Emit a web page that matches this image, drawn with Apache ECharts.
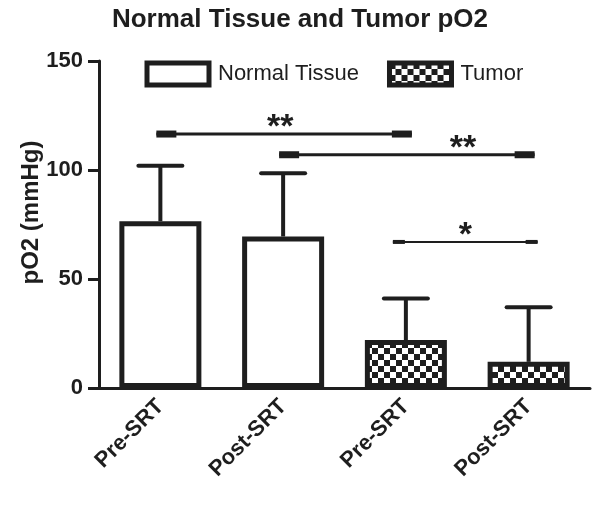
<!DOCTYPE html>
<html>
<head>
<meta charset="utf-8">
<script src="https://cdn.jsdelivr.net/npm/echarts@6/dist/echarts.min.js"></script>
<style>html,body{margin:0;padding:0;background:#fff;}#c{width:600px;height:508px;}</style>
</head>
<body>
<div id="c"></div>
<script>
// ---- data ----
const categories = ['Pre-SRT', 'Post-SRT', 'Pre-SRT', 'Post-SRT'];
const normalMean = [76.5, 69.5, '-', '-'];
const tumorMean = ['-', '-', 22, 12];
const errorSD = [25.5, 29, 19, 25];
const yTicks = [0, 50, 100, 150];
const bracketFrom = [0, 1, 2];
const bracketTo = [2, 3, 3];
const bracketY = [116.5, 107, 67];
const bracketLabel = ['**', '**', '*'];

// ---- styles ----
const INK = '#1e1e1e';
const FONT = '"Liberation Sans", Arial, Helvetica, sans-serif';

const SQ = 6;
const pc = document.createElement('canvas');
pc.width = SQ * 2; pc.height = SQ * 2;
const g = pc.getContext('2d');
g.fillStyle = '#fff'; g.fillRect(0, 0, SQ * 2, SQ * 2);
g.fillStyle = INK; g.fillRect(0, 0, SQ, SQ); g.fillRect(SQ, SQ, SQ, SQ);
const checker = { image: pc, repeat: 'repeat' };

const means = categories.map((c, i) => normalMean[i] !== '-' ? normalMean[i] : tumorMean[i]);
const errData = categories.map((c, i) => [i, means[i], means[i] + errorSD[i]]);
const brData = bracketFrom.map((f, i) => [f, bracketTo[i], bracketY[i]]);

const chart = echarts.init(document.getElementById('c'), null, { renderer: 'canvas' });
chart.setOption({
  animation: false,
  title: {
    text: 'Normal Tissue and Tumor pO2',
    left: 'center', top: 2,
    textStyle: { fontFamily: FONT, fontWeight: 'bold', fontSize: 26, color: INK }
  },
  legend: {
    left: 144.5, top: 60.5, padding: 0,
    itemWidth: 62, itemHeight: 22, itemGap: 28,
    icon: 'rect',
    itemStyle: { borderWidth: 5, borderColor: INK },
    textStyle: { fontFamily: FONT, fontSize: 22, color: INK, padding: [0, 0, 0, 4] },
    data: ['Normal Tissue', 'Tumor']
  },
  grid: { left: 99, right: 10, top: 61, bottom: 120 },
  xAxis: {
    type: 'category', data: categories,
    axisLine: { lineStyle: { color: INK, width: 3 } },
    axisTick: { alignWithLabel: true, length: 10, lineStyle: { color: INK, width: 3 } },
    axisLabel: { rotate: 45, margin: 15, fontFamily: FONT, fontWeight: 'bold', fontSize: 22, color: INK, interval: 0 }
  },
  yAxis: {
    type: 'value', min: yTicks[0], max: yTicks[yTicks.length - 1], interval: yTicks[1] - yTicks[0],
    name: 'pO2 (mmHg)', nameLocation: 'middle', nameGap: 56, nameMoveOverlap: false,
    nameTextStyle: { fontFamily: FONT, fontWeight: 'bold', fontSize: 24, color: INK, padding: [0, 0, 0, 24] },
    axisLine: { show: true, lineStyle: { color: INK, width: 3 } },
    axisTick: { show: true, length: 11, lineStyle: { color: INK, width: 3 } },
    axisLabel: { margin: 16, fontFamily: FONT, fontWeight: 'bold', fontSize: 22, color: INK },
    splitLine: { show: false }
  },
  series: [
    {
      name: 'Normal Tissue', type: 'bar', stack: 'a', data: normalMean, barWidth: 82,
      itemStyle: { color: '#fff', borderColor: INK, borderWidth: 5 }
    },
    {
      name: 'Tumor', type: 'bar', stack: 'a', data: tumorMean, barWidth: 82,
      itemStyle: { color: checker, borderColor: INK, borderWidth: 5 }
    },
    {
      type: 'custom', clip: false, z: 5,
      data: errData, encode: { x: 0, y: [1, 2] },
      renderItem: function (params, api) {
        const b = api.coord([api.value(0), api.value(1)]);
        const t = api.coord([api.value(0), api.value(2)]);
        return {
          type: 'group', children: [
            { type: 'line', shape: { x1: b[0], y1: b[1], x2: t[0], y2: t[1] }, style: { stroke: INK, lineWidth: 4 } },
            { type: 'line', shape: { x1: t[0] - 22, y1: t[1], x2: t[0] + 22, y2: t[1] }, style: { stroke: INK, lineWidth: 4, lineCap: 'round' } }
          ]
        };
      }
    },
    {
      type: 'custom', clip: false, z: 5,
      data: brData, encode: { x: [0, 1], y: 2 },
      renderItem: function (params, api) {
        const i = params.dataIndex;
        const thin = bracketLabel[i].length === 1;
        const a = api.coord([api.value(0), api.value(2)]);
        const c = api.coord([api.value(1), api.value(2)]);
        const x0 = a[0] - (thin ? 13 : 4), x1 = c[0] + (thin ? 9 : 6), y = a[1];
        const lw = thin ? 2 : 3, sh = thin ? 4 : 7, sl = thin ? 12 : 20;
        const tx = thin ? (x0 + x1) / 2 : (i === 0 ? (x0 + x1) / 2 - 4 : x0 + (x1 - x0) * 0.72);
        return {
          type: 'group', children: [
            { type: 'line', shape: { x1: x0, y1: y, x2: x1, y2: y }, style: { stroke: INK, lineWidth: lw } },
            { type: 'rect', shape: { x: x0, y: y - sh / 2, width: sl, height: sh }, style: { fill: INK } },
            { type: 'rect', shape: { x: x1 - sl, y: y - sh / 2, width: sl, height: sh }, style: { fill: INK } },
            { type: 'text', x: tx, y: y - 6, style: { text: bracketLabel[i], fill: INK, font: 'bold 34px ' + FONT, align: 'center', verticalAlign: 'middle' } }
          ]
        };
      }
    }
  ]
});
</script>
</body>
</html>
